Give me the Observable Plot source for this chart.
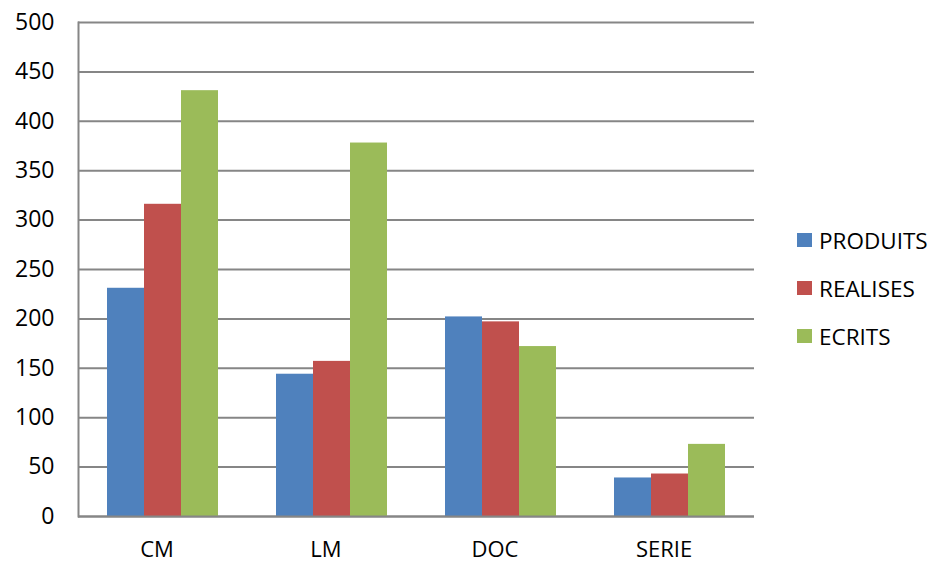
<!DOCTYPE html>
<html>
<head>
<meta charset="utf-8">
<script src="https://cdn.jsdelivr.net/npm/d3@7"></script>
<script src="https://cdn.jsdelivr.net/npm/@observablehq/plot@0.6"></script>
<style>
  body { margin: 0; background: #fff; }
  #wrap { position: relative; width: 931px; height: 563px; font-family: "Open Sans", sans-serif; }
  #chart { position: absolute; left: 0; top: 0; }
  .leg { position: absolute; left: 797px; display: flex; align-items: center; font-size: 22.5px; color: #000; }
  .sw { width: 15px; height: 14px; margin-right: 7px; }
</style>
</head>
<body>
<div id="wrap"><div id="chart"></div></div>
<script>
const categories = ["CM", "LM", "DOC", "SERIE"];
const series = ["PRODUITS", "REALISES", "ECRITS"];
const colors = ["#4F81BD", "#C0504D", "#9BBB59"];
const produits = [231, 144, 202, 39];
const realises = [316, 157, 197, 43];
const ecrits = [431, 378, 172, 73];
const yTicks = [0, 50, 100, 150, 200, 250, 300, 350, 400, 450, 500];

const values = [produits, realises, ecrits];
const data = [];
categories.forEach((c, i) => series.forEach((s, j) => data.push({cat: c, series: s, value: values[j][i]})));

const chart = Plot.plot({
  width: 780,
  height: 563,
  marginLeft: 78,
  marginRight: 26,
  marginTop: 22,
  marginBottom: 47,
  style: {fontFamily: "'Open Sans', sans-serif", fontSize: "23px", color: "#000", background: "#fff"},
  fx: {domain: categories, padding: 0},
  x: {domain: series, paddingInner: 0, paddingOuter: 0.76, axis: null},
  y: {domain: [0, 500]},
  color: {domain: series, range: colors},
  marks: [
    Plot.gridY(yTicks, {stroke: "#868686", strokeOpacity: 1, strokeWidth: 2}),
    Plot.barY(data, {fx: "cat", x: "series", y: "value", fill: "series"}),
    Plot.ruleY([0], {stroke: "#868686", strokeWidth: 2}),
    Plot.frame({anchor: "left", facetAnchor: "left", stroke: "#868686", strokeWidth: 2}),
    Plot.axisY({ticks: yTicks, tickSize: 0, tickPadding: 24, label: null, tickFormat: d => String(d)}),
    Plot.axisFx({anchor: "bottom", tickSize: 0, tickPadding: 25, dx: -6, fontSize: 22, label: null})
  ]
});
document.getElementById("chart").appendChild(chart);

const centers = [240, 288, 336];
const wrap = document.getElementById("wrap");
series.forEach((s, i) => {
  const row = document.createElement("div");
  row.className = "leg";
  row.style.top = (centers[i] - 15) + "px";
  row.style.height = "30px";
  const sw = document.createElement("div");
  sw.className = "sw";
  sw.style.background = colors[i];
  const t = document.createElement("span");
  t.textContent = s;
  row.appendChild(sw);
  row.appendChild(t);
  wrap.appendChild(row);
});
</script>
</body>
</html>
